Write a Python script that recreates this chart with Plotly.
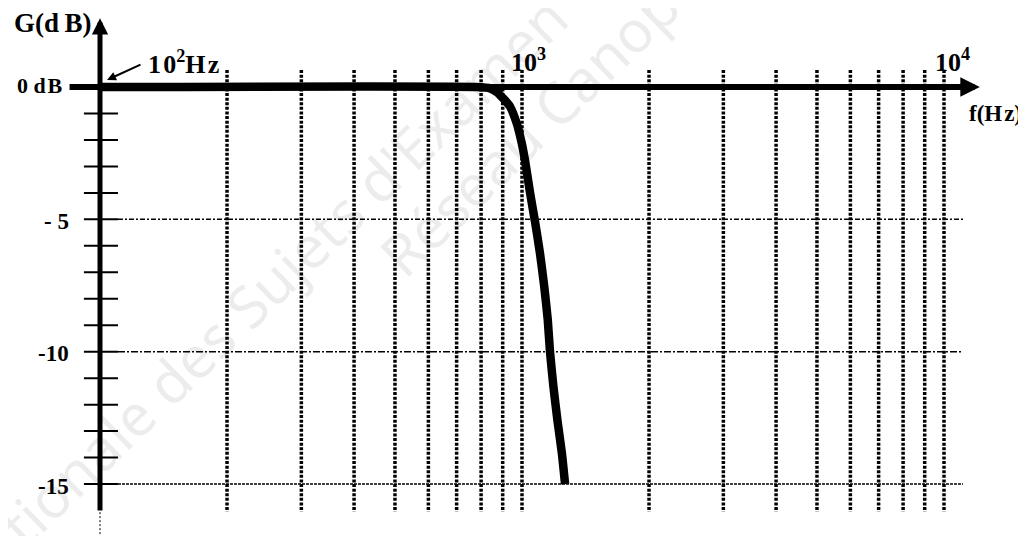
import math
import plotly.graph_objects as go

# ---- data ----
freq_hz = [100, 780, 840, 873, 905, 937, 971, 998, 1016, 1045, 1074, 1103,
           1129, 1151, 1165, 1187, 1213, 1243, 1265]
gain_db = [0, 0, -0.05, -0.2, -0.45, -0.74, -1.36, -2.1, -2.75, -4.0, -5.1,
           -6.28, -7.54, -8.8, -10.0, -11.32, -12.58, -13.83, -15.0]

grid_freqs = [200, 300, 400, 500, 600, 700, 800, 900, 1000,
              2000, 3000, 4000, 5000, 6000, 7000, 8000, 9000, 10000]
ytick_vals = [-1, -2, -3, -4, -5, -6, -7, -8, -9, -10, -11, -12, -13, -14, -15]
ygrid_vals = [-5, -10, -15]
ylabel_vals = [-5, -10, -15]
ylabel_text = ["- 5", "-10", "-15"]

# ---- page geometry (page body has an 8px margin) ----
OFF = 8
W, H = 1026 - OFF, 536 - OFF
DEC = 422.0      # pixels per decade
X100 = 100.0     # page x of 100 Hz
Y0 = 87.0        # page y of 0 dB
PDB = 26.47      # pixels per dB

X_RANGE = [2 + (OFF - X100) / DEC, 2 + (1026 - X100) / DEC]
Y_RANGE = [-(536 - Y0) / PDB, (Y0 - OFF) / PDB]
G_TOP_GRID = 0.64
G_BOTTOM = -16.06
F_TICK_L, F_TICK_R = 91.6, 110.3
F_HGRID_R = 11090


def px(X):
    return (X - OFF) / W


def py(Y):
    return 1 - (Y - OFF) / H


BLACK = "#000000"
SERIF = "Liberation Serif, Times New Roman, serif"
HS = "\u200a"   # hair space
TS = "\u2009"   # thin space

fig = go.Figure()

# vertical grid lines
vx, vy = [], []
for f in grid_freqs:
    vx += [f, f, None]
    vy += [G_TOP_GRID, G_BOTTOM, None]
fig.add_trace(go.Scatter(x=vx, y=vy, mode="lines", hoverinfo="skip",
                         line=dict(color=BLACK, width=3.5, dash="3px,1.6px")))

# horizontal grid lines
hdash = {-5: "5px,2px,2px,2px", -10: "7px,2px,2px,2px", -15: "3px,1px"}
for g in ygrid_vals:
    fig.add_trace(go.Scatter(x=[F_TICK_R, F_HGRID_R], y=[g, g], mode="lines",
                             hoverinfo="skip",
                             line=dict(color=BLACK, width=1.5, dash=hdash[g])))

# y ticks
tx, ty = [], []
for g in ytick_vals:
    tx += [F_TICK_L, F_TICK_R, None]
    ty += [g, g, None]
fig.add_trace(go.Scatter(x=tx, y=ty, mode="lines", hoverinfo="skip",
                         line=dict(color=BLACK, width=2)))

# thin dashed continuation of the y axis
fig.add_trace(go.Scatter(x=[100, 100], y=[G_BOTTOM, Y_RANGE[0]], mode="lines",
                         hoverinfo="skip",
                         line=dict(color=BLACK, width=1, dash="2px,2px")))

# gain curve
fig.add_trace(go.Scatter(x=freq_hz, y=gain_db, mode="lines", hoverinfo="skip",
                         line=dict(color=BLACK, width=8.5, shape="spline",
                                   smoothing=0.5)))

L = math.log10
annotations = []
# x axis with arrow
annotations.append(dict(x=L(12160), y=0, ax=L(84), ay=0, xref="x", yref="y",
                        axref="x", ayref="y", text="", showarrow=True,
                        arrowhead=2, arrowsize=0.65, arrowwidth=6,
                        arrowcolor=BLACK))
# y axis with arrow
annotations.append(dict(x=L(100), y=2.6, ax=L(100), ay=G_BOTTOM, xref="x",
                        yref="y", axref="x", ayref="y", text="",
                        showarrow=True, arrowhead=2, arrowsize=0.65,
                        arrowwidth=5, arrowcolor=BLACK))
# pointer to origin
annotations.append(dict(x=px(107), y=py(80), ax=35, ay=-16,
                        xref="paper", yref="paper", text="", showarrow=True,
                        arrowhead=2, arrowsize=0.9, arrowwidth=2,
                        arrowcolor=BLACK))


def label(text, X, Y, size, xanchor="center"):
    annotations.append(dict(x=px(X), y=py(Y), xref="paper",
                            yref="paper", text=text, showarrow=False,
                            xanchor=xanchor, yanchor="middle",
                            font=dict(family=SERIF, size=size, color=BLACK)))


label("<b>G(d" + TS + "B)</b>", 52, 23, 27)
label("<b>0 d" + HS + "B</b>", 65, 86, 22, "right")
for v, t in zip(ylabel_vals, ylabel_text):
    label("<b>%s</b>" % t, 71, Y0 - PDB * v + 2, 23, "right")
label("<b>1" + HS + "0<sup>2</sup>H" + HS + "z</b>", 183, 62, 26)
label("<b>10<sup>3</sup></b>", 528, 61, 26)
label("<b>10<sup>4</sup></b>", 952, 61, 26)
label("<b>f(H" + HS + "z)</b>", 995, 114, 23)

# faint watermark
for txt, cx, cy in [("Nationale des Sujets d'Examen de l'enseignement", 440, 118),
                    ("Réseau Canopé", 540, 118)]:
    annotations.append(dict(x=px(cx), y=py(cy), xref="paper",
                            yref="paper", text=txt, showarrow=False,
                            textangle=-44, xanchor="center", yanchor="middle",
                            font=dict(family="Noto Sans", size=58,
                                      color="rgba(0,0,0,0.075)")))

fig.update_layout(
    width=W, height=H,
    margin=dict(l=0, r=0, t=0, b=0),
    paper_bgcolor="white", plot_bgcolor="white",
    showlegend=False,
    xaxis=dict(type="log", range=X_RANGE, visible=False, fixedrange=True),
    yaxis=dict(range=Y_RANGE, visible=False, fixedrange=True),
    annotations=annotations,
)

fig.write_html("out.html")
